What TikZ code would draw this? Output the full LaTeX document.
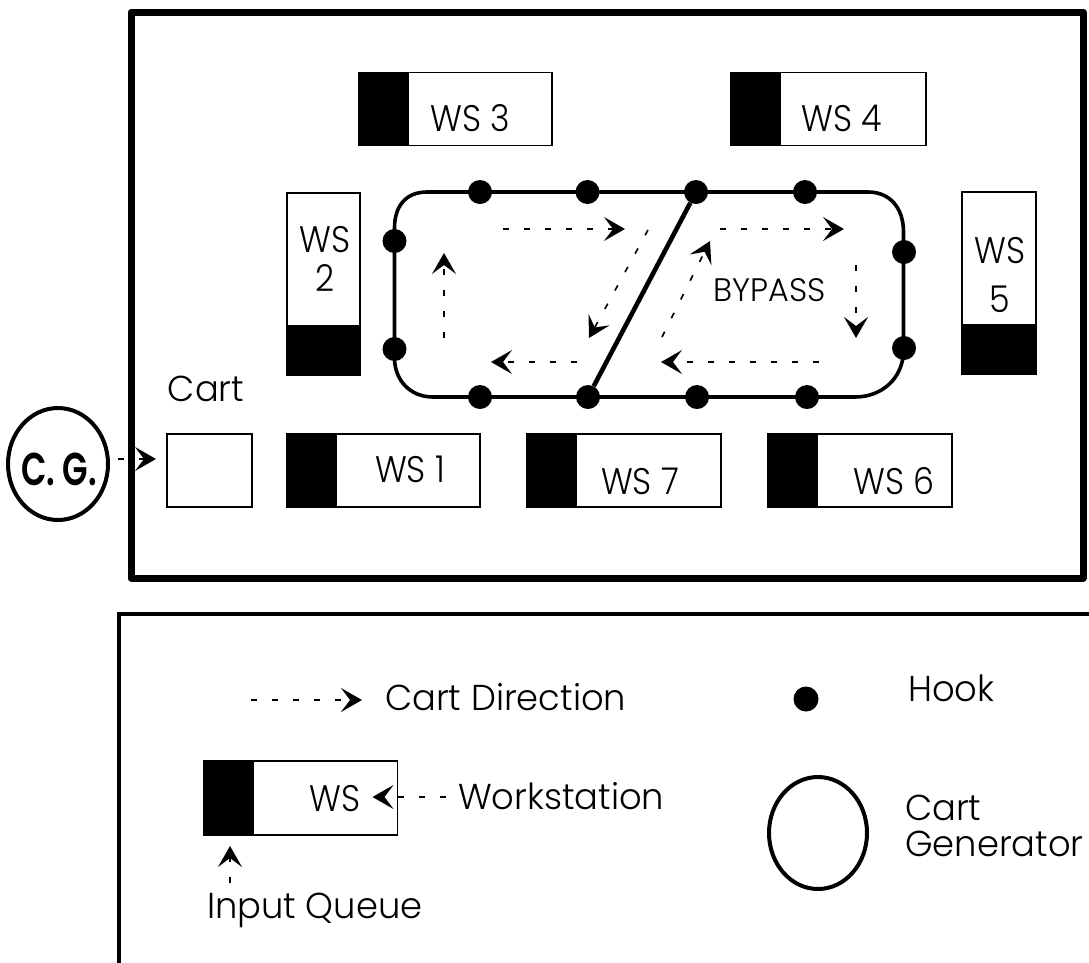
\documentclass[tikz,border=0pt]{standalone}
\usepackage{fontspec}
\usetikzlibrary{arrows.meta,shapes.geometric}
\setmainfont{Poppins}[UprightFont=* Light,BoldFont=* SemiBold]
\newfontfamily\labfont{Poppins Light}[FakeStretch=0.98]
\newfontfamily\wsfont{Poppins Light}[FakeStretch=0.9]
\newfontfamily\cgfont{Poppins SemiBold}[FakeStretch=0.72]
\tikzset{
  x=1pt,y=-1pt,
  frameA/.style={draw,line width=7pt,line join=round},
  frameB/.style={draw,line width=3.5pt},
  wsbox/.style={draw,line width=1.4pt,fill=white,inner sep=0pt},
  queue/.style={draw,fill=black,line width=1.4pt,inner sep=0pt},
  cartbox/.style={draw,line width=1.4pt,fill=white,inner sep=0pt,minimum width=85pt,minimum height=73pt},
  hook/.style={circle,fill=black,inner sep=0pt,minimum size=24pt},
  track/.style={line width=3.6pt},
  bypass/.style={line width=4.6pt},
  flow/.style={line width=1.6pt,dash pattern=on 6pt off 15pt,-{Stealth[length=21pt,width=24pt,inset=9pt]}},
  lab/.style={inner sep=0pt,font=\labfont\fontsize{36}{40}\selectfont,anchor=base west},
  labc/.style={lab,anchor=base},
  wslab/.style={inner sep=0pt,font=\wsfont\fontsize{37}{40}\selectfont,anchor=base},
  gen/.style={draw,ellipse,line width=4pt,inner sep=0pt,fill=white},
}
\begin{document}
\begin{tikzpicture}
\useasboundingbox (0,0) rectangle (1089,962);
\fill[white] (0,0) rectangle (1089,962);
% frames
\draw[frameA] (131,12) rectangle (1083,578);
\draw[frameB] (1095,614) -- (119,614) -- (119,975);
% top row workstations
\node[wsbox,minimum width=193pt,minimum height=73pt] (ws3) at (455.5,109) {};
\node[queue,minimum width=49pt,minimum height=73pt] (q3) at (383.5,109) {};
\node[wslab] (t3) at (470,131) {WS 3};
\node[wsbox,minimum width=195pt,minimum height=73pt] (ws4) at (828.5,109) {};
\node[queue,minimum width=49pt,minimum height=73pt] (q4) at (755.5,109) {};
\node[wslab] (t4) at (842,131) {WS 4};
% side workstations
\node[wsbox,minimum width=73pt,minimum height=182pt] (ws2) at (323.5,284) {};
\node[queue,minimum width=73pt,minimum height=49pt] (q2) at (323.5,350.5) {};
\node[wslab] (t2a) at (325,252) {WS};
\node[wslab] (t2b) at (325,291) {2};
\node[wsbox,minimum width=74pt,minimum height=182pt] (ws5) at (999,283) {};
\node[queue,minimum width=74pt,minimum height=49pt] (q5) at (999,349.5) {};
\node[wslab] (t5a) at (1000,263) {WS};
\node[wslab] (t5b) at (1000,312) {5};
% bottom row
\node[cartbox] (cart) at (209.5,470.5) {};
\node[labc] (tc) at (206,401) {Cart};
\node[wsbox,minimum width=193pt,minimum height=73pt] (ws1) at (383.5,470.5) {};
\node[queue,minimum width=49pt,minimum height=73pt] (q1) at (311.5,470.5) {};
\node[wslab] (t1) at (410,482) {WS 1};
\node[wsbox,minimum width=194pt,minimum height=73pt] (ws7) at (624,470.5) {};
\node[queue,minimum width=49pt,minimum height=73pt] (q7) at (551.5,470.5) {};
\node[wslab] (t7) at (640,494) {WS 7};
\node[wsbox,minimum width=184pt,minimum height=73pt] (ws6) at (860,470.5) {};
\node[queue,minimum width=49pt,minimum height=73pt] (q6) at (792.5,470.5) {};
\node[wslab] (t6) at (894,494) {WS 6};
% track
\coordinate (tl1) at (394.5,228);
\coordinate (tl2) at (427,192);
\coordinate (tr1) at (868,192);
\coordinate (tr2) at (903.5,232);
\coordinate (br1) at (903.5,350);
\coordinate (br2) at (855,397);
\coordinate (bl1) at (433,397);
\coordinate (bl2) at (394.5,358);
\draw[track] (tl2) -- (tr1) .. controls (890,192) and (903.5,208) .. (tr2) -- (br1)
  .. controls (903.5,378) and (882,397) .. (br2) -- (bl1)
  .. controls (410,397) and (394.5,380) .. (bl2) -- (tl1)
  .. controls (394.5,206) and (406,192) .. (tl2);
\node[hook] (h1) at (480,192) {};
\node[hook] (h2) at (587.5,192) {};
\node[hook] (h3) at (696,192) {};
\node[hook] (h4) at (805,192) {};
\node[hook] (h5) at (904,252) {};
\node[hook] (h6) at (904,348) {};
\node[hook] (h7) at (807,397) {};
\node[hook] (h8) at (697,397) {};
\node[hook] (h9) at (588,397) {};
\node[hook] (h10) at (480,397) {};
\node[hook] (h11) at (394.5,349) {};
\node[hook] (h12) at (394.5,241) {};
\draw[bypass] (h3) -- (h9);
% flow arrows
\coordinate (a1s) at (503,229); \coordinate (a1e) at (625,229);
\coordinate (a2s) at (648,230); \coordinate (a2e) at (589,338);
\coordinate (a3s) at (577,362); \coordinate (a3e) at (491,362);
\coordinate (a4s) at (444,338); \coordinate (a4e) at (444,253);
\coordinate (a5s) at (720,229); \coordinate (a5e) at (844,229);
\coordinate (a6s) at (856,265); \coordinate (a6e) at (856,338);
\coordinate (a7s) at (819,362); \coordinate (a7e) at (661,362);
\coordinate (a8s) at (662,337); \coordinate (a8e) at (710,241);
\draw[flow] (a1s) -- (a1e);
\draw[flow] (a2s) -- (a2e);
\draw[flow] (a3s) -- (a3e);
\draw[flow] (a4s) -- (a4e);
\draw[flow] (a5s) -- (a5e);
\draw[flow] (a6s) -- (a6e);
\draw[flow] (a7s) -- (a7e);
\draw[flow] (a8s) -- (a8e);
\node[labc,font=\labfont\fontsize{32.5}{36}\selectfont] (by) at (770,301) {BYPASS};
% cart generator
\node[gen,minimum width=100pt,minimum height=112pt] (cg) at (58,464) {};
\node[labc,font=\cgfont\fontsize{46}{50}\selectfont] (cgt) at (59,485) {C. G.};
\coordinate (cgs) at (118,459);
\coordinate (cge) at (156,459);
\draw[flow] (cgs) -- (cge);
% legend
\coordinate (l1s) at (251,700); \coordinate (l1e) at (362,700);
\draw[flow] (l1s) -- (l1e);
\node[lab] (ld) at (385,710) {Cart Direction};
\node[wsbox,minimum width=193.5pt,minimum height=74pt] (lws) at (300.75,798) {};
\node[queue,minimum width=49pt,minimum height=74pt] (lq) at (228.5,798) {};
\node[wslab] (lwt) at (335,811) {WS};
\coordinate (l2s) at (446,797); \coordinate (l2e) at (372.5,797);
\draw[flow] (l2s) -- (l2e);
\node[lab] (lw) at (458,809) {Workstation};
\coordinate (l3s) at (230,883); \coordinate (l3e) at (230,846);
\draw[flow] (l3s) -- (l3e);
\node[lab] (li) at (207,918) {Input Queue};
\node[hook,minimum size=25pt] (lh) at (806,699) {};
\node[lab] (lht) at (908,701) {Hook};
\node[gen,minimum width=98pt,minimum height=112pt] (lg) at (818,833) {};
\node[lab] (lc1) at (905,820) {Cart};
\node[lab] (lc2) at (905,856) {Generator};
\end{tikzpicture}
\end{document}
